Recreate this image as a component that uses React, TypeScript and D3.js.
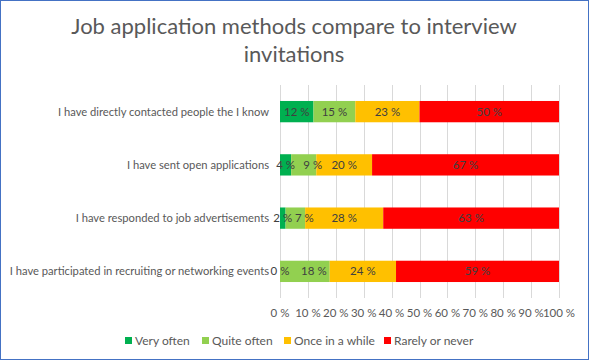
import { useEffect, useRef } from "react";
import * as d3 from "d3";

// chart data
const categories = [
  "I have directly contacted people the I know",
  "I have sent open applications",
  "I have responded to job advertisements",
  "I have participated in recruiting or networking events",
];
const seriesNames = ["Very often", "Quite often", "Once in a while", "Rarely or never"];
const veryOften = [12, 4, 2, 0];
const quiteOften = [15, 9, 7, 18];
const onceInAWhile = [23, 20, 28, 24];
const rarelyOrNever = [50, 67, 63, 59];
const colors = ["#00B050", "#92D050", "#FFC000", "#FF0000"];
const tickValues = [0, 0.1, 0.2, 0.3, 0.4, 0.5, 0.6, 0.7, 0.8, 0.9, 1];

const FONT = "Lato, 'Open Sans', sans-serif";

const App = () => {
  const svgRef = useRef<SVGSVGElement | null>(null);

  useEffect(() => {
    const width = 589;
    const height = 360;
    const margin = { top: 85, right: 30, bottom: 62, left: 280 };

    const svg = d3.select(svgRef.current);
    svg.selectAll("*").remove();
    svg.attr("width", width).attr("height", height);

    // white background + blue border
    svg
      .append("rect")
      .attr("x", 0.5)
      .attr("y", 0.5)
      .attr("width", width - 1)
      .attr("height", height - 1)
      .attr("fill", "#fff")
      .attr("stroke", "#4472C4");

    // title
    const title = svg
      .append("text")
      .attr("text-anchor", "middle")
      .attr("font-family", FONT)
      .attr("font-size", 22)
      .attr("fill", "#595959");
    title.append("tspan").attr("x", 294).attr("y", 34).text("Job application methods compare to interview");
    title.append("tspan").attr("x", 294).attr("y", 62).text("invitations");

    const rows = categories.map((c, i) => ({
      name: c,
      "Very often": veryOften[i],
      "Quite often": quiteOften[i],
      "Once in a while": onceInAWhile[i],
      "Rarely or never": rarelyOrNever[i],
    }));

    // 100% stacked, like Excel does it
    const stacked = d3.stack<any>().keys(seriesNames).offset(d3.stackOffsetExpand)(rows);

    const x = d3.scaleLinear().domain([0, 1]).range([margin.left, width - margin.right]);
    const y = d3
      .scaleBand()
      .domain(categories)
      .range([margin.top, height - margin.bottom])
      .paddingInner(0.6)
      .paddingOuter(0.3);

    // gridlines
    svg
      .append("g")
      .selectAll("line")
      .data(tickValues)
      .enter()
      .append("line")
      .attr("x1", (d) => Math.round(x(d)) + 0.5)
      .attr("x2", (d) => Math.round(x(d)) + 0.5)
      .attr("y1", margin.top)
      .attr("y2", height - margin.bottom)
      .attr("stroke", "#D9D9D9");

    // bars
    svg
      .append("g")
      .selectAll("g")
      .data(stacked)
      .enter()
      .append("g")
      .attr("fill", (_d, i) => colors[i])
      .selectAll("rect")
      .data((d) => d)
      .enter()
      .append("rect")
      .attr("x", (d) => x(d[0]))
      .attr("y", (d) => y(d.data.name)!)
      .attr("width", (d) => x(d[1]) - x(d[0]))
      .attr("height", y.bandwidth());

    // data labels (the "Quite often" ones were pushed right where the first segment is tiny)
    stacked.forEach((s, si) => {
      svg
        .append("g")
        .selectAll("text")
        .data(s)
        .enter()
        .append("text")
        .attr("x", (d, i) => {
          const cx = (x(d[0]) + x(d[1])) / 2;
          const prevW = si > 0 ? x(stacked[si - 1][i][1]) - x(stacked[si - 1][i][0]) : 99;
          return si === 1 && prevW < 20 ? cx + 9 : cx;
        })
        .attr("y", (d) => y(d.data.name)! + y.bandwidth() / 2)
        .attr("dy", "0.35em")
        .attr("text-anchor", "middle")
        .attr("font-family", FONT)
        .attr("font-size", 11.5)
        .attr("fill", "#404040")
        .text((d) => `${d.data[s.key]} %`);
    });

    // category labels
    svg
      .append("g")
      .selectAll("text")
      .data(categories)
      .enter()
      .append("text")
      .attr("x", margin.left - 11)
      .attr("y", (d) => y(d)! + y.bandwidth() / 2)
      .attr("dy", "0.35em")
      .attr("text-anchor", "end")
      .attr("font-family", FONT)
      .attr("font-size", 11.2)
      .attr("fill", "#595959")
      .text((d) => d);

    // x tick labels
    svg
      .append("g")
      .selectAll("text")
      .data(tickValues)
      .enter()
      .append("text")
      .attr("x", (d) => x(d))
      .attr("y", 317)
      .attr("text-anchor", "middle")
      .attr("font-family", FONT)
      .attr("font-size", 11.5)
      .attr("fill", "#595959")
      .text((d) => `${Math.round(d * 100)} %`);

    // legend
    const legendX = [125, 202, 284, 384];
    const legend = svg
      .append("g")
      .selectAll("g")
      .data(seriesNames)
      .enter()
      .append("g")
      .attr("transform", (_d, i) => `translate(${legendX[i]},337)`);
    legend
      .append("rect")
      .attr("width", 7)
      .attr("height", 7)
      .attr("fill", (_d, i) => colors[i]);
    legend
      .append("text")
      .attr("x", 10)
      .attr("y", 4)
      .attr("dy", "0.35em")
      .attr("font-family", FONT)
      .attr("font-size", 12)
      .attr("fill", "#595959")
      .text((d) => d);
  }, []);

  return <svg ref={svgRef} style={{ position: "absolute", left: 0, top: 0 }}></svg>;
};

export default App;
